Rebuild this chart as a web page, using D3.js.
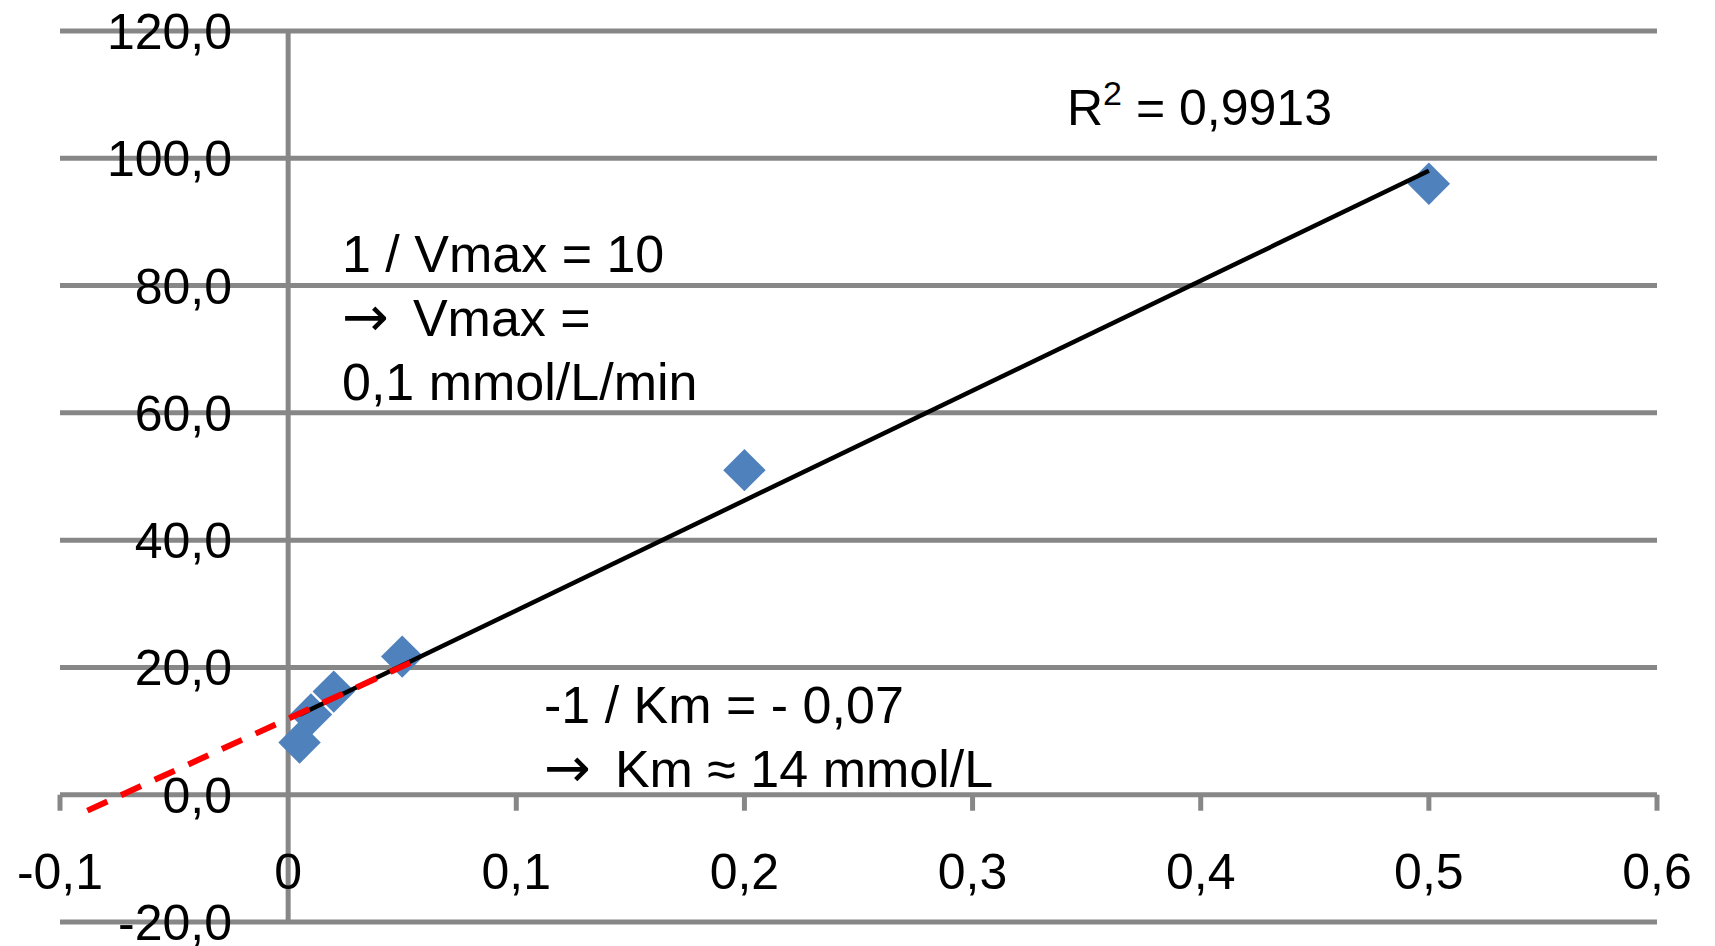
<!DOCTYPE html>
<html>
<head>
<meta charset="utf-8">
<script src="https://cdn.jsdelivr.net/npm/d3@7"></script>
<style>
  body { margin: 0; background: #ffffff; }
  text { font-family: "Liberation Sans", Arial, sans-serif; fill: #000; }
  tspan.arrow { font-family: "DejaVu Sans", sans-serif; font-size: 56px; }
</style>
</head>
<body>
<svg id="chart" width="1715" height="946"></svg>
<script>
// Lineweaver-Burk data: 1/[S] vs 1/v
const invS = [0.005, 0.01, 0.02, 0.05, 0.2, 0.5];
const invV = [8.2, 12.6, 16.2, 21.7, 51.0, 96.0];

// axis ticks
const xTicks = [-0.1, 0, 0.1, 0.2, 0.3, 0.4, 0.5, 0.6];
const yTicks = [-20, 0, 20, 40, 60, 80, 100, 120];

// hand-drawn red extrapolation to the x intercept
const extrapX = [-0.088, 0.054];
const extrapY = [-2.5, 20.8];

const r2Value = "0,9913";
// first entry of each line is an optional arrow prefix
const vmaxLines = [["", "1 / Vmax = 10"], ["\u2192", "Vmax ="], ["", "0,1 mmol/L/min"]];
const kmLines = [["", "-1 / Km = - 0,07"], ["\u2192", "Km \u2248 14 mmol/L"]];

let svg = d3.select("#chart");
const gridColor = "#878787";
const pointColor = "#4F81BD";

let x = d3.scaleLinear().domain([-0.1, 0.6]).range([60, 1657]);
let y = d3.scaleLinear().domain([-20, 120]).range([922, 31]);

// comma decimal locale
const locale = d3.formatLocale({ decimal: ",", thousands: ".", grouping: [3], currency: ["", ""], minus: "-" });
const fmtY = locale.format(".1f");
const fmtX = locale.format("~g");

// horizontal gridlines
svg.append("g").selectAll("line.grid").data(yTicks)
    .join("line")
    .attr("class", "grid")
    .attr("x1", x(-0.1))
    .attr("x2", x(0.6))
    .attr("y1", d => y(d))
    .attr("y2", d => y(d))
    .style("stroke", gridColor)
    .style("stroke-width", 5);

// vertical axis at x = 0
svg.append("line")
    .attr("x1", x(0)).attr("x2", x(0))
    .attr("y1", y(120)).attr("y2", y(-20))
    .style("stroke", gridColor)
    .style("stroke-width", 5);

// tick marks on the x axis
svg.append("g").selectAll("line.tick").data(xTicks.filter(d => d !== 0))
    .join("line")
    .attr("class", "tick")
    .attr("x1", d => x(d)).attr("x2", d => x(d))
    .attr("y1", y(0)).attr("y2", y(0) + 16)
    .style("stroke", gridColor)
    .style("stroke-width", 5);

// y tick labels (drawn over the gridlines)
svg.append("g").selectAll("text.ylab").data(yTicks)
    .join("text")
    .attr("class", "ylab")
    .attr("x", 232)
    .attr("y", d => y(d))
    .attr("dy", "0.36em")
    .attr("text-anchor", "end")
    .style("font-size", "50px")
    .text(d => fmtY(d));

// x tick labels
svg.append("g").selectAll("text.xlab").data(xTicks)
    .join("text")
    .attr("class", "xlab")
    .attr("x", d => x(d))
    .attr("y", 889)
    .attr("text-anchor", "middle")
    .style("font-size", "50px")
    .text(d => fmtX(d));

// data points as diamonds
svg.append("g").selectAll("path.point").data(invS)
    .join("path")
    .attr("class", "point")
    .attr("d", d3.symbol(d3.symbolSquare, 900))
    .attr("transform", (d, i) => "translate(" + x(d) + "," + y(invV[i]) + ") rotate(45)")
    .attr("fill", pointColor);

// least squares trendline
const mx = d3.mean(invS), my = d3.mean(invV);
const slope = d3.sum(invS, (d, i) => (d - mx) * (invV[i] - my)) / d3.sum(invS, d => (d - mx) * (d - mx));
const intercept = my - slope * mx;
const trendX = d3.extent(invS);

svg.append("path")
    .datum(trendX)
    .attr("d", d3.line().x(d => x(d)).y(d => y(intercept + slope * d)))
    .style("fill", "none")
    .style("stroke", "#000")
    .style("stroke-width", 4.5);

// red dashed extrapolation
svg.append("path")
    .datum(extrapX)
    .attr("d", d3.line().x(d => x(d)).y((d, i) => y(extrapY[i])))
    .style("fill", "none")
    .style("stroke", "#FF0000")
    .style("stroke-width", 6)
    .style("stroke-dasharray", "22,15");

// R squared label
let r2 = svg.append("text")
    .attr("x", 1067)
    .attr("y", 125)
    .style("font-size", "50px");
r2.append("tspan").text("R");
r2.append("tspan").attr("dy", -20).style("font-size", "34px").text("2");
r2.append("tspan").attr("dy", 20).text(" = " + r2Value);

// annotations
function annotate(cls, lines, x0, y0) {
    svg.append("g").selectAll("text." + cls).data(lines)
        .join("text")
        .attr("class", cls)
        .attr("x", x0)
        .attr("y", (d, i) => y0 + i * 64)
        .style("font-size", "52px")
        .each(function (d) {
            let t = d3.select(this);
            if (d[0] !== "") {
                t.append("tspan").attr("class", "arrow").text(d[0]);
                t.append("tspan").attr("dx", 24).text(d[1]);
            } else {
                t.append("tspan").text(d[1]);
            }
        });
}
annotate("vmax", vmaxLines, 342, 272);
annotate("km", kmLines, 544, 723);
</script>
</body>
</html>
